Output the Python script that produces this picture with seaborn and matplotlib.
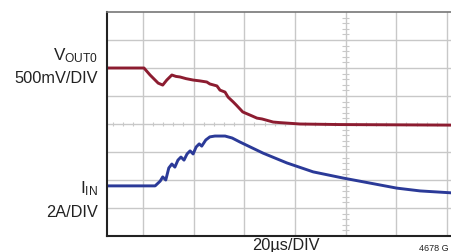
import numpy as np
import pandas as pd
import seaborn as sns
from matplotlib import pyplot as plt

# traces, in scope divisions (x: 20us/DIV, y: 8 divisions tall)
vout_x = [-0.71, 0.02, 0.14, 0.30, 0.39, 0.47, 0.57, 0.65, 0.73, 0.85, 0.99, 1.12,
          1.26, 1.32, 1.46, 1.52, 1.62, 1.68, 1.78, 1.84, 1.97, 2.15, 2.25, 2.35,
          2.57, 2.70, 3.10, 3.89, 6.10]
vout_y = [6.00, 6.00, 5.75, 5.46, 5.39, 5.57, 5.75, 5.70, 5.68, 5.62, 5.57, 5.54,
          5.50, 5.43, 5.36, 5.21, 5.14, 4.96, 4.79, 4.68, 4.43, 4.29, 4.21, 4.18,
          4.07, 4.05, 4.00, 3.98, 3.96]

iin_x = [-0.71, 0.24, 0.34, 0.39, 0.45, 0.51, 0.57, 0.63, 0.69, 0.75, 0.81, 0.87,
         0.93, 0.99, 1.05, 1.11, 1.16, 1.24, 1.32, 1.42, 1.62, 1.76, 1.91, 2.37,
         2.84, 3.36, 3.95, 4.48, 5.01, 5.47, 6.10]
iin_y = [1.79, 1.79, 1.96, 2.11, 2.00, 2.43, 2.57, 2.46, 2.71, 2.82, 2.71, 2.93,
         3.04, 2.93, 3.18, 3.29, 3.21, 3.43, 3.54, 3.57, 3.57, 3.50, 3.36, 2.96,
         2.61, 2.29, 2.07, 1.89, 1.71, 1.61, 1.54]

red = "#8c1c30"
blue = "#2b3a98"
grid_c = "#c8c8c8"

sns.set_style("white")
plt.rcParams["font.family"] = ["Liberation Sans", "DejaVu Sans"]
plt.rcParams["mathtext.fontset"] = "custom"
plt.rcParams["mathtext.rm"] = "Liberation Sans"

fig = plt.figure(figsize=(4.52, 2.52), dpi=100)
ax = fig.add_axes([107 / 452, 16 / 252, 345 / 452, 224 / 252])

# graticule
for gx in range(0, 7):
    ax.axvline(gx, color=grid_c, lw=1, zorder=0)
for gy in range(1, 8):
    ax.axhline(gy, color=grid_c, lw=1, zorder=0)
ax.vlines(np.arange(-0.6, 6.2, 0.2), 3.93, 4.07, color=grid_c, lw=0.8, zorder=0)
ax.hlines(np.arange(0.2, 8, 0.2), 3.93, 4.07, color=grid_c, lw=0.8, zorder=0)

df_v = pd.DataFrame({"t": vout_x, "v": vout_y})
df_i = pd.DataFrame({"t": iin_x, "v": iin_y})
sns.lineplot(data=df_v, x="t", y="v", color=red, lw=2.1, estimator=None, ax=ax)
sns.lineplot(data=df_i, x="t", y="v", color=blue, lw=2.1, estimator=None, ax=ax)

ax.set_xlim(-0.71, 6.10)
ax.set_ylim(0, 8)
ax.set_xticks([])
ax.set_yticks([])
ax.set_xlabel("")
ax.set_ylabel("")
ax.spines["right"].set_visible(False)
ax.spines["top"].set_color("#777777")
ax.spines["top"].set_linewidth(1.2)
for s in ["left", "bottom"]:
    ax.spines[s].set_color("#222222")
    ax.spines[s].set_linewidth(1.5)

fs = 11.8
tc = "#222222"
fig.text(98 / 452, 1 - 60 / 252, r"$\mathrm{V_{OUT0}}$", ha="right", va="baseline",
         fontsize=fs + 0.5, color=tc)
fig.text(98 / 452, 1 - 83 / 252, "500mV/DIV", ha="right", va="baseline",
         fontsize=fs, color=tc)
fig.text(98 / 452, 1 - 193 / 252, r"$\mathrm{I_{IN}}$", ha="right", va="baseline",
         fontsize=fs + 0.5, color=tc)
fig.text(98 / 452, 1 - 217 / 252, "2A/DIV", ha="right", va="baseline",
         fontsize=fs, color=tc)
fig.text(286 / 452, 1 - 250 / 252, "20µs/DIV", ha="center", va="baseline",
         fontsize=fs, color=tc)
fig.text(449 / 452, 1 - 251 / 252, "4678 G", ha="right", va="baseline",
         fontsize=6.5, color=tc)

fig.savefig("out.png", dpi=100)
